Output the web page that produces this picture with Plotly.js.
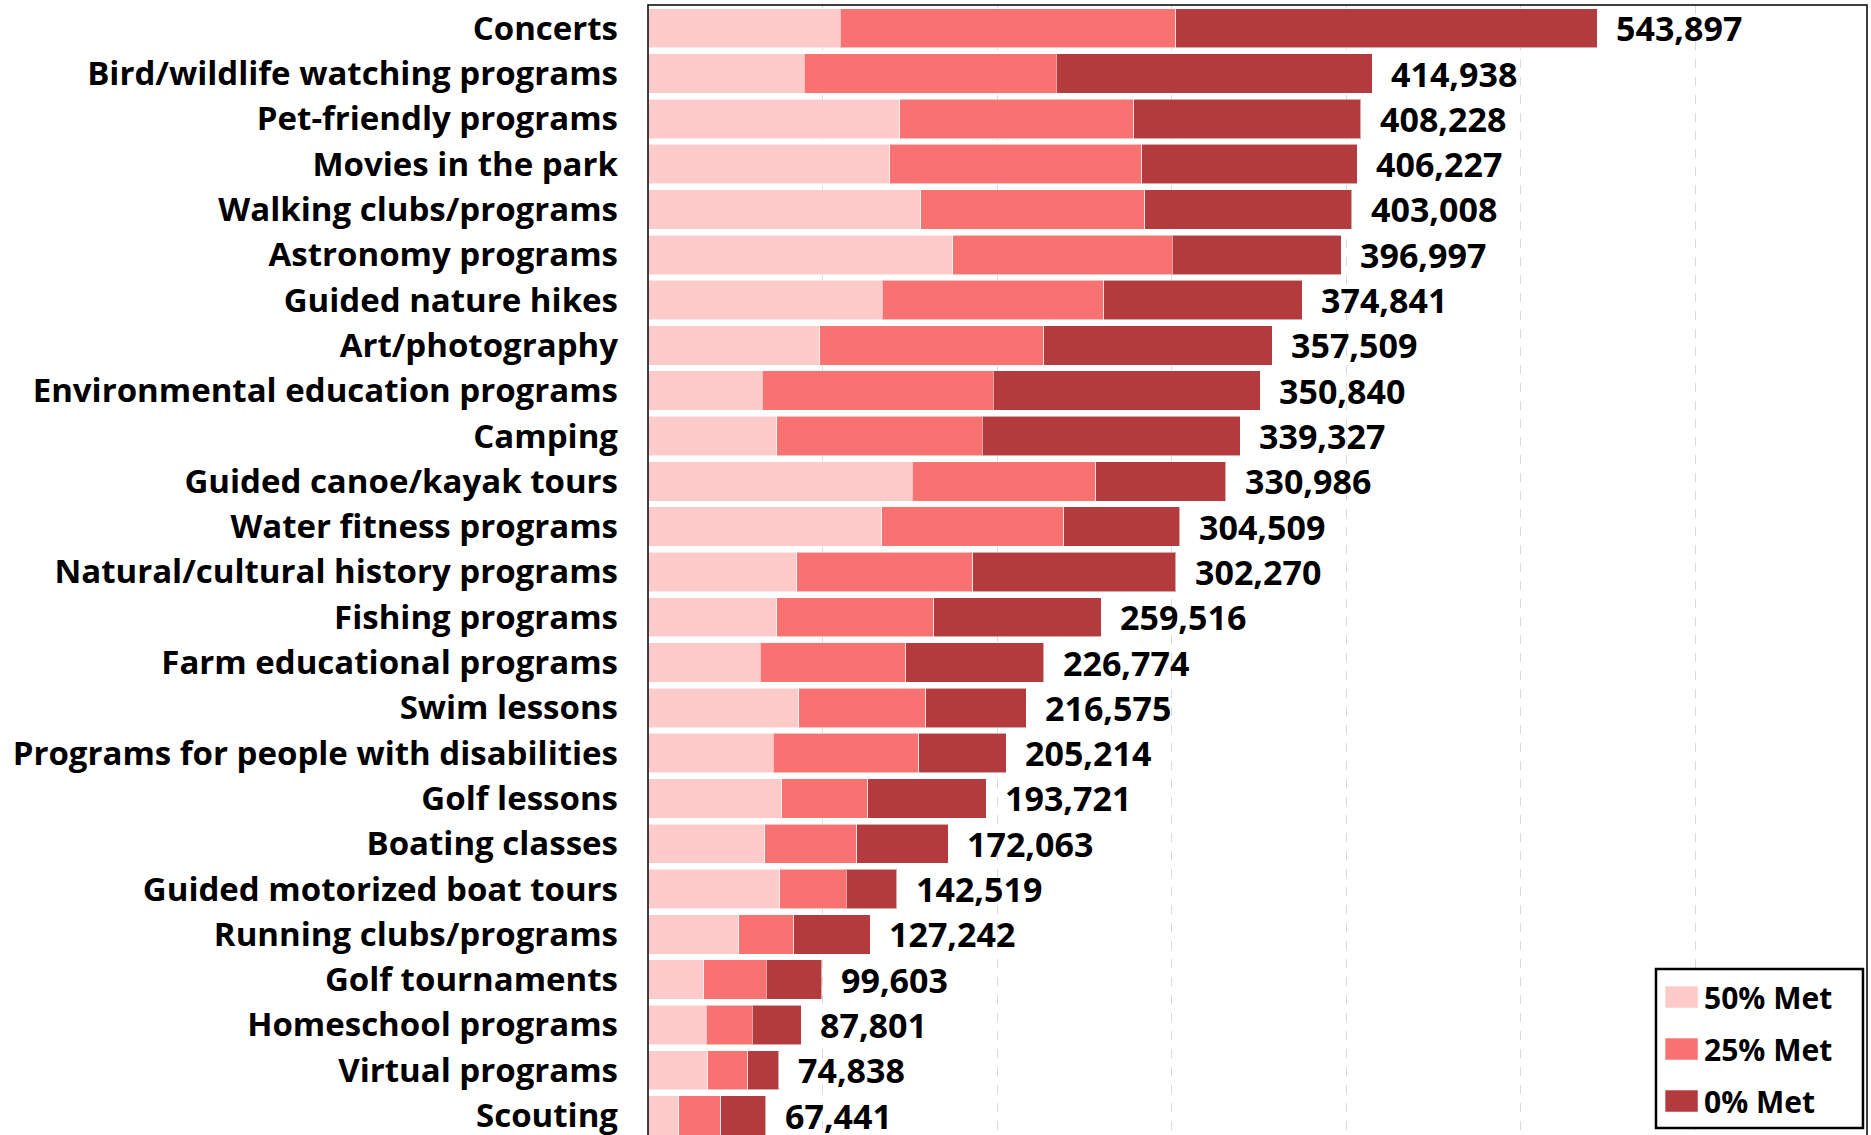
<!DOCTYPE html>
<html>
<head>
<meta charset="utf-8">
<script src="https://cdn.plot.ly/plotly-3.0.1.min.js"></script>
<style>
  html, body { margin: 0; padding: 0; background: #fff; overflow: hidden; }
  #chart { width: 1871px; height: 1135px; }
</style>
</head>
<body>
<div id="chart"></div>
<script>
const categories = [
  "Concerts",
  "Bird/wildlife watching programs",
  "Pet-friendly programs",
  "Movies in the park",
  "Walking clubs/programs",
  "Astronomy programs",
  "Guided nature hikes",
  "Art/photography",
  "Environmental education programs",
  "Camping",
  "Guided canoe/kayak tours",
  "Water fitness programs",
  "Natural/cultural history programs",
  "Fishing programs",
  "Farm educational programs",
  "Swim lessons",
  "Programs for people with disabilities",
  "Golf lessons",
  "Boating classes",
  "Guided motorized boat tours",
  "Running clubs/programs",
  "Golf tournaments",
  "Homeschool programs",
  "Virtual programs",
  "Scouting"
];

const met50 = [110200, 89500, 144200, 138400, 156200, 174600, 134300, 98300, 65400, 73800,
               151500, 133900, 85200, 73800, 64400, 86300, 71700, 76600, 67000, 75400,
               51900, 32000, 33500, 34100, 17700];

const met25 = [192000, 144300, 134200, 144500, 128300, 125700, 126700, 128500, 132400, 117800,
               105000, 104400, 100700, 89800, 83200, 72800, 83500, 49300, 52600, 38300,
               31500, 35800, 26100, 23100, 24100];

const met0 = [241697, 181138, 129828, 123327, 118508, 96697, 113841, 130709, 153040, 147727,
              74486, 66209, 116370, 95916, 79174, 57475, 50014, 67821, 52463, 28819,
              43842, 31803, 28201, 17638, 25641];

const totals = [543897, 414938, 408228, 406227, 403008, 396997, 374841, 357509, 350840, 339327,
                330986, 304509, 302270, 259516, 226774, 216575, 205214, 193721, 172063, 142519,
                127242, 99603, 87801, 74838, 67441];

const seriesNames = ["50% Met", "25% Met", "0% Met"];
const seriesColors = ["#FFCACA", "#F87272", "#B33B3D"];
const seriesValues = [met50, met25, met0];

const FONT = "'Open Sans', 'Noto Sans', sans-serif";

const traces = seriesValues.map((vals, i) => ({
  type: "bar",
  orientation: "h",
  name: seriesNames[i],
  legendgroup: seriesNames[i],
  x: vals,
  y: categories,
  marker: { color: seriesColors[i], line: { color: "rgba(255,255,255,0.55)", width: 1 } },
  hoverinfo: "x+y+name"
}));

const annotations = totals.map((t, i) => ({
  x: t,
  y: categories[i],
  xref: "x",
  yref: "y",
  text: t.toLocaleString("en-US"),
  showarrow: false,
  xanchor: "left",
  yanchor: "middle",
  xshift: 17,
  font: { family: FONT, size: 34, color: "#000", weight: 700 }
}));

const layout = {
  width: 1871,
  height: 1135,
  margin: { l: 648, r: 4, t: 5, b: 0, pad: 0 },
  paper_bgcolor: "#fff",
  plot_bgcolor: "#fff",
  barmode: "stack",
  bargap: 0.13,
  showlegend: true,
  font: { family: FONT, color: "#000" },
  xaxis: {
    range: [0, 698300],
    dtick: 100000,
    tick0: 0,
    showgrid: true,
    gridcolor: "#DADADA",
    griddash: "dash",
    gridwidth: 1,
    zeroline: false,
    showticklabels: false,
    ticks: "",
    showline: false,
    fixedrange: true
  },
  yaxis: {
    type: "category",
    categoryorder: "array",
    categoryarray: categories,
    range: [24.43, -0.514],
    showgrid: false,
    zeroline: false,
    showline: false,
    ticks: "",
    ticklabelstandoff: 29,
    tickfont: { family: FONT, size: 33, color: "#000", weight: 700 },
    fixedrange: true
  },
  legend: {
    x: 0.8335,
    y: 0.1451,
    xanchor: "left",
    yanchor: "top",
    traceorder: "grouped",
    tracegroupgap: 10,
    bgcolor: "rgba(0,0,0,0)",
    borderwidth: 0,
    font: { family: FONT, size: 30, color: "#000", weight: 700 }
  },
  shapes: [
    {
      type: "rect",
      xref: "paper",
      yref: "paper",
      x0: 0, x1: 1, y0: -0.05, y1: 1,
      line: { color: "#000", width: 1.5 },
      fillcolor: "rgba(0,0,0,0)",
      layer: "above"
    },
    {
      type: "rect",
      xref: "paper",
      yref: "paper",
      x0: 0.8269, x1: 0.9967, y0: 0.0062, y1: 0.1469,
      line: { color: "#000", width: 2.5 },
      fillcolor: "#fff",
      layer: "above"
    }
  ],
  annotations: annotations
};

Plotly.newPlot("chart", traces, layout, { displayModeBar: false, responsive: false }).then(gd => {
  gd.querySelectorAll(".legendpoints path").forEach(p => {
    p.setAttribute("d", "M14,11H-19V-11H14Z");
  });
});
</script>
</body>
</html>
